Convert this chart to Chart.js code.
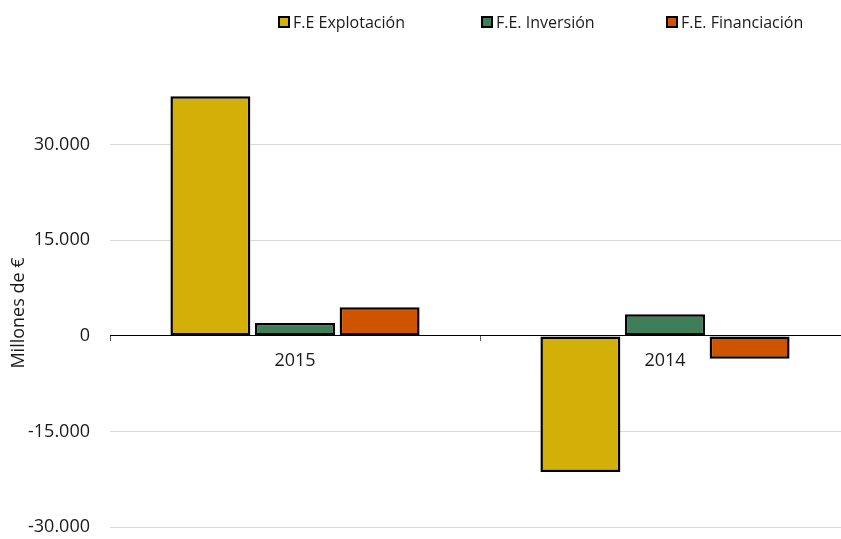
<!DOCTYPE html>
<html>
<head>
<meta charset="utf-8">
<script src="https://cdn.jsdelivr.net/npm/chart.js@4"></script>
<style>
  html, body { margin: 0; padding: 0; background: #fff; overflow: hidden; }
  #wrap { width: 860px; height: 558px; }
</style>
</head>
<body>
<div id="wrap"><canvas id="chart"></canvas></div>
<script>
// ─── datos ───
const years        = ['2015', '2014'];
const explotacion  = [37600, -21350];
const inversion    = [2030, 3380];
const financiacion = [4480, -3600];
const seriesNames  = ['F.E Explotación', 'F.E. Inversión', 'F.E. Financiación'];
const yTicks       = [-30000, -15000, 0, 15000, 30000];

const FONT = "'Open Sans', sans-serif";
const TEXT = '#1a1a1a';
const fmt = v => (v < 0 ? '-' : '') + String(Math.abs(v)).replace(/\B(?=(\d{3})+(?!\d))/g, '.');

// leyenda y título del eje dibujados a mano (posiciones tipo Excel)
const legendX = [279, 482, 667];
const customText = {
  id: 'customText',
  afterDraw(chart) {
    const c = chart.ctx;
    c.save();
    c.font = '16px ' + FONT;
    c.textBaseline = 'middle';
    chart.data.datasets.forEach((ds, i) => {
      const x = legendX[i], y = 22;
      c.fillStyle = ds.backgroundColor;
      c.fillRect(x, y - 5, 10, 10);
      c.lineWidth = 2; c.strokeStyle = '#000';
      c.strokeRect(x, y - 5, 10, 10);
      c.fillStyle = TEXT;
      c.textAlign = 'left';
      c.fillText(ds.label, x + 14, y + 1);
    });
    // Millones de €
    c.font = '18px ' + FONT;
    c.translate(19, 313);
    c.rotate(-Math.PI / 2);
    c.textAlign = 'center';
    c.fillText('Millones de €', 0, 0);
    c.restore();
  }
};

const colors = ['#d2b008', '#3e7e59', '#cf5400'];
const values = [explotacion, inversion, financiacion];

new Chart(document.getElementById('chart'), {
  type: 'bar',
  data: {
    labels: years,
    datasets: seriesNames.map((name, i) => ({
      label: name,
      data: values[i],
      backgroundColor: colors[i],
      borderColor: '#000',
      borderWidth: 2.5,
      borderSkipped: false,
      categoryPercentage: 0.686,
      barPercentage: 0.945,
    }))
  },
  options: {
    responsive: true, maintainAspectRatio: false, animation: false,
    layout: { padding: { top: 49, bottom: 12, left: 0, right: 10 } },
    plugins: { legend: { display: false }, tooltip: { enabled: false } },
    scales: {
      x: {
        position: { y: 0 },
        afterFit: s => { s.height = 0; },
        grid: { drawOnChartArea: false, drawTicks: true, tickLength: 5, color: '#555' },
        border: { display: true, color: '#000', width: 1 },
        ticks: { color: TEXT, font: { family: FONT, size: 18 }, padding: 9 }
      },
      y: {
        min: -30000, max: 45000,
        afterFit: s => { s.width = 110; },
        afterBuildTicks: s => { s.ticks = yTicks.map(v => ({ value: v })); },
        grid: {
          drawTicks: false,
          color: ctx => ctx.tick && ctx.tick.value === 0 ? '#000' : '#d9d9d9'
        },
        border: { display: false },
        ticks: { color: TEXT, font: { family: FONT, size: 18 }, padding: 20, callback: v => fmt(v) }
      }
    }
  },
  plugins: [customText]
});
</script>
</body>
</html>
